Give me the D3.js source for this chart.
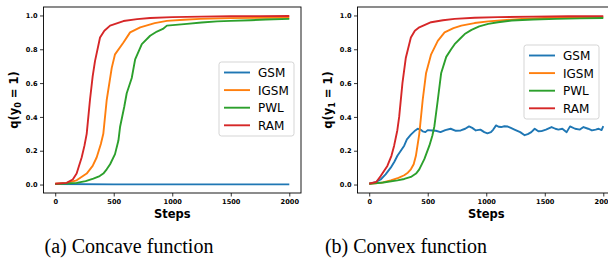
<!DOCTYPE html>
<html>
<head>
<meta charset="utf-8">
<script src="https://cdn.jsdelivr.net/npm/d3@7"></script>
<style>
  body { margin: 0; background: #fff; }
  svg { display: block; }
  .tick text { font-family: "DejaVu Sans", sans-serif; font-weight: bold; font-size: 6.6px; fill: #000; }
  .lab { font-family: "DejaVu Sans", sans-serif; font-weight: bold; font-size: 11.5px; fill: #000; }
  .leg { font-family: "DejaVu Sans", sans-serif; font-size: 12px; fill: #000; }
  .cap { font-family: "Liberation Serif", "Times New Roman", serif; font-size: 20px; fill: #000; }
</style>
</head>
<body>
<div id="chart"></div>
<script>
const seriesNames = ["GSM", "IGSM", "PWL", "RAM"];
const colors = ["#1f77b4", "#ff7f0e", "#2ca02c", "#d62728"];
const xTicks = [0, 500, 1000, 1500, 2000];
const yTicks = [0, 0.2, 0.4, 0.6, 0.8, 1.0];

// (a) concave
const concaveGSMSteps = [0, 500, 1000, 1500, 2000];
const concaveGSM = [0.003, 0.001, 0.001, 0.001, 0.001];
const concaveIGSMSteps = [0, 100, 183, 269, 320, 354, 390, 411, 440, 483, 511, 583, 640, 726, 850, 954, 1100, 1240, 1500, 1750, 2000];
const concaveIGSM = [0.005, 0.01, 0.025, 0.065, 0.11, 0.16, 0.24, 0.3, 0.5, 0.69, 0.77, 0.84, 0.9, 0.93, 0.955, 0.968, 0.975, 0.98, 0.984, 0.986, 0.988];
const concavePWLSteps = [0, 100, 183, 260, 326, 380, 411, 440, 469, 511, 540, 554, 590, 611, 654, 683, 740, 811, 869, 920, 954, 1126, 1250, 1383, 1500, 1669, 1800, 2000];
const concavePWL = [0.003, 0.006, 0.01, 0.02, 0.035, 0.05, 0.065, 0.09, 0.12, 0.18, 0.26, 0.34, 0.46, 0.54, 0.63, 0.74, 0.83, 0.88, 0.905, 0.92, 0.94, 0.95, 0.958, 0.965, 0.968, 0.972, 0.976, 0.98];
const concaveRAMSteps = [0, 97, 150, 183, 226, 250, 269, 297, 320, 340, 383, 420, 469, 583, 700, 811, 1000, 1250, 1500, 1750, 2000];
const concaveRAM = [0.005, 0.01, 0.03, 0.065, 0.16, 0.23, 0.3, 0.5, 0.64, 0.73, 0.87, 0.91, 0.94, 0.967, 0.978, 0.985, 0.99, 0.993, 0.995, 0.996, 0.997];

// (b) convex
const convexGSMSteps = [0, 50, 98, 140, 184, 215, 241, 270, 299, 322, 356, 394, 414, 437, 457, 480, 500, 538, 570, 609, 650, 696, 740, 782, 820, 853, 880, 911, 950, 983, 1010, 1040, 1060, 1084, 1105, 1127, 1155, 1184, 1210, 1241, 1290, 1328, 1355, 1385, 1414, 1445, 1472, 1510, 1558, 1590, 1616, 1650, 1687, 1716, 1759, 1800, 1831, 1870, 1903, 1935, 1960, 1985, 2000];
const convexGSM = [0.005, 0.012, 0.03, 0.06, 0.1, 0.135, 0.17, 0.2, 0.23, 0.267, 0.295, 0.32, 0.33, 0.326, 0.315, 0.31, 0.322, 0.32, 0.318, 0.31, 0.322, 0.33, 0.318, 0.32, 0.33, 0.344, 0.335, 0.32, 0.325, 0.31, 0.303, 0.31, 0.325, 0.35, 0.342, 0.34, 0.345, 0.343, 0.335, 0.325, 0.31, 0.292, 0.298, 0.31, 0.33, 0.315, 0.316, 0.325, 0.34, 0.33, 0.325, 0.33, 0.31, 0.344, 0.33, 0.325, 0.34, 0.33, 0.32, 0.325, 0.33, 0.322, 0.345];
const convexIGSMSteps = [0, 100, 184, 250, 299, 330, 356, 380, 399, 428, 457, 486, 529, 586, 644, 720, 787, 900, 1017, 1150, 1305, 1500, 1750, 2000];
const convexIGSM = [0.005, 0.01, 0.025, 0.04, 0.055, 0.07, 0.09, 0.12, 0.17, 0.3, 0.5, 0.66, 0.77, 0.85, 0.9, 0.925, 0.94, 0.955, 0.965, 0.972, 0.98, 0.985, 0.988, 0.99];
const convexPWLSteps = [0, 120, 241, 300, 356, 400, 428, 471, 514, 540, 557, 586, 615, 658, 700, 730, 780, 816, 874, 940, 1017, 1100, 1218, 1400, 1600, 1800, 2000];
const convexPWL = [0.005, 0.012, 0.025, 0.033, 0.045, 0.065, 0.09, 0.15, 0.23, 0.29, 0.345, 0.5, 0.66, 0.755, 0.8, 0.83, 0.865, 0.89, 0.915, 0.935, 0.95, 0.96, 0.97, 0.976, 0.98, 0.983, 0.985];
const convexRAMSteps = [0, 60, 98, 155, 190, 213, 240, 256, 284, 313, 356, 390, 428, 529, 630, 730, 900, 1100, 1400, 1700, 2000];
const convexRAM = [0.005, 0.015, 0.05, 0.11, 0.17, 0.23, 0.32, 0.4, 0.6, 0.75, 0.87, 0.91, 0.93, 0.96, 0.972, 0.98, 0.986, 0.99, 0.993, 0.995, 0.996];

const panels = [
  {
    dx: 0, sub: "0", caption: "(a) Concave function", capX: 129,
    steps: [concaveGSMSteps, concaveIGSMSteps, concavePWLSteps, concaveRAMSteps],
    values: [concaveGSM, concaveIGSM, concavePWL, concaveRAM],
    legend: { x: 219, y: 62 }
  },
  {
    dx: 314, sub: "1", caption: "(b) Convex function", capX: 406,
    steps: [convexGSMSteps, convexIGSMSteps, convexPWLSteps, convexRAMSteps],
    values: [convexGSM, convexIGSM, convexPWL, convexRAM],
    legend: { x: 524, y: 45 }
  }
];

const svg = d3.select("#chart").append("svg")
  .attr("width", 608)
  .attr("height", 262);

const x0 = 43.5, x1 = 301, yTop = 7, yBot = 193;

panels.forEach(function(p) {
  const x = d3.scaleLinear().domain([-100, 2100]).range([x0 + p.dx, x1 + p.dx]);
  const y = d3.scaleLinear().domain([-0.05, 1.05]).range([yBot, yTop]);

  const g = svg.append("g");

  const clipId = "clip" + p.sub;
  svg.append("clipPath").attr("id", clipId)
    .append("rect")
      .attr("x", x0 + p.dx).attr("y", yTop)
      .attr("width", x1 - x0).attr("height", yBot - yTop);

  const line = d3.line()
    .x(function(d) { return x(d[0]) })
    .y(function(d) { return y(d[1]) });

  const lines = g.append("g").attr("clip-path", "url(#" + clipId + ")");
  [0, 1, 2, 3].forEach(function(i) {
    const pts = p.steps[i].map(function(s, j) { return [s, p.values[i][j]] });
    lines.append("path")
      .attr("d", line(pts))
      .attr("fill", "none")
      .attr("stroke", colors[i])
      .attr("stroke-width", 1.9)
      .attr("stroke-linejoin", "round");
  });

  // axes
  const xAxis = g.append("g")
    .attr("transform", "translate(0," + yBot + ")")
    .call(d3.axisBottom(x).tickValues(xTicks).tickSize(3.5).tickPadding(2.5).tickFormat(d3.format("d")));
  const yAxis = g.append("g")
    .attr("transform", "translate(" + (x0 + p.dx) + ",0)")
    .call(d3.axisLeft(y).tickValues(yTicks).tickSize(3.5).tickPadding(2.5).tickFormat(d3.format(".1f")));
  [xAxis, yAxis].forEach(function(a) {
    a.select(".domain").remove();
    a.selectAll(".tick line").attr("stroke", "#000").attr("stroke-width", 0.8);
  });

  // frame
  g.append("rect")
    .attr("x", x0 + p.dx).attr("y", yTop)
    .attr("width", x1 - x0).attr("height", yBot - yTop)
    .attr("fill", "none").attr("stroke", "#000").attr("stroke-width", 0.9);

  // labels
  g.append("text").attr("class", "lab")
    .attr("x", (x0 + x1) / 2 + p.dx).attr("y", 218)
    .attr("text-anchor", "middle")
    .text("Steps");

  const yl = g.append("text").attr("class", "lab")
    .attr("transform", "translate(" + (18 + p.dx) + "," + ((yTop + yBot) / 2) + ") rotate(-90)")
    .attr("text-anchor", "middle");
  yl.append("tspan").text("q(y");
  yl.append("tspan").attr("font-size", "8px").attr("dy", 2.5).text(p.sub);
  yl.append("tspan").attr("dy", -2.5).text(" = 1)");

  // legend
  const lg = g.append("g").attr("transform", "translate(" + p.legend.x + "," + p.legend.y + ")");
  lg.append("rect")
    .attr("width", 75).attr("height", 74).attr("rx", 2.5)
    .attr("fill", "#fff").attr("fill-opacity", 0.8)
    .attr("stroke", "#d0d0d0").attr("stroke-width", 0.9);
  seriesNames.forEach(function(name, i) {
    const yy = 10.5 + i * 17.6;
    lg.append("line")
      .attr("x1", 5).attr("x2", 31).attr("y1", yy).attr("y2", yy)
      .attr("stroke", colors[i]).attr("stroke-width", 1.9);
    lg.append("text").attr("class", "leg")
      .attr("x", 39).attr("y", yy + 4.4)
      .text(name);
  });

  svg.append("text").attr("class", "cap")
    .attr("x", p.capX).attr("y", 253)
    .attr("text-anchor", "middle")
    .text(p.caption);
});
</script>
</body>
</html>
